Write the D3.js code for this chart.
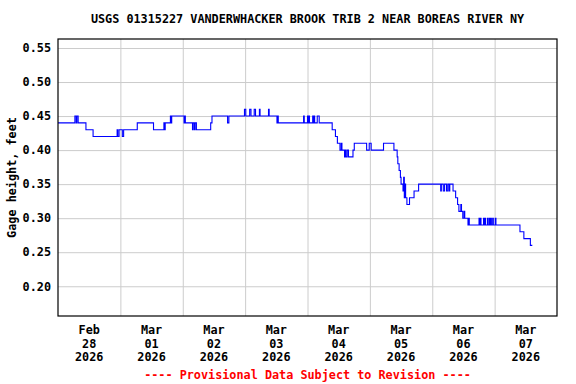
<!DOCTYPE html>
<html>
<head>
<meta charset="utf-8">
<script src="https://cdn.jsdelivr.net/npm/d3@7"></script>
<style>
  body { margin: 0; background: #fff; }
  svg { display: block; }
  text { font-family: "DejaVu Sans Mono", "Liberation Mono", monospace; font-weight: bold; }
</style>
</head>
<body>
<svg id="chart" width="576" height="384"></svg>
<script>
// gage height breakpoints (ft), each value holds until the next time
const times = [
  "2026-02-28 00:00", "2026-02-28 06:30", "2026-02-28 07:00", "2026-02-28 07:15", "2026-02-28 07:45",
  "2026-02-28 10:45", "2026-02-28 13:30", "2026-02-28 22:45", "2026-02-28 23:00", "2026-02-28 23:30",
  "2026-03-01 00:45", "2026-03-01 01:15", "2026-03-01 06:30", "2026-03-01 12:45", "2026-03-01 16:45",
  "2026-03-01 17:00", "2026-03-01 17:15", "2026-03-01 19:15", "2026-03-01 19:30", "2026-03-01 19:45",
  "2026-03-02 00:30", "2026-03-02 00:45", "2026-03-02 01:00", "2026-03-02 03:45", "2026-03-02 04:00",
  "2026-03-02 04:30", "2026-03-02 04:45", "2026-03-02 05:15", "2026-03-02 10:45", "2026-03-02 11:15",
  "2026-03-02 17:15", "2026-03-02 17:45", "2026-03-02 23:45", "2026-03-03 00:15", "2026-03-03 01:45",
  "2026-03-03 02:15", "2026-03-03 03:30", "2026-03-03 04:00", "2026-03-03 05:30", "2026-03-03 05:45",
  "2026-03-03 09:00", "2026-03-03 09:15", "2026-03-03 12:15", "2026-03-03 12:30", "2026-03-03 12:45",
  "2026-03-03 22:30", "2026-03-03 22:45", "2026-03-04 00:00", "2026-03-04 00:15", "2026-03-04 00:30",
  "2026-03-04 00:45", "2026-03-04 02:00", "2026-03-04 02:15", "2026-03-04 02:30", "2026-03-04 02:45",
  "2026-03-04 03:45", "2026-03-04 04:30", "2026-03-04 09:30", "2026-03-04 10:45", "2026-03-04 11:30",
  "2026-03-04 12:30", "2026-03-04 13:00", "2026-03-04 13:15", "2026-03-04 14:15", "2026-03-04 14:30",
  "2026-03-04 14:45", "2026-03-04 15:15", "2026-03-04 15:45", "2026-03-04 17:30", "2026-03-04 18:00",
  "2026-03-04 22:45", "2026-03-04 23:45", "2026-03-05 00:30", "2026-03-05 05:15", "2026-03-05 09:15",
  "2026-03-05 10:30", "2026-03-05 10:45", "2026-03-05 11:15", "2026-03-05 11:45", "2026-03-05 12:00",
  "2026-03-05 12:45", "2026-03-05 13:00", "2026-03-05 13:15", "2026-03-05 13:30", "2026-03-05 13:45",
  "2026-03-05 14:15", "2026-03-05 15:15", "2026-03-05 17:00", "2026-03-05 18:45", "2026-03-06 03:15",
  "2026-03-06 03:30", "2026-03-06 04:15", "2026-03-06 04:45", "2026-03-06 05:30", "2026-03-06 06:00",
  "2026-03-06 06:30", "2026-03-06 06:45", "2026-03-06 08:00", "2026-03-06 09:00", "2026-03-06 09:45",
  "2026-03-06 10:15", "2026-03-06 11:00", "2026-03-06 11:15", "2026-03-06 11:45", "2026-03-06 12:15",
  "2026-03-06 12:30", "2026-03-06 13:45", "2026-03-06 14:00", "2026-03-06 14:15", "2026-03-06 18:00",
  "2026-03-06 18:15", "2026-03-06 18:30", "2026-03-06 18:45", "2026-03-06 19:45", "2026-03-06 20:00",
  "2026-03-06 20:15", "2026-03-06 20:30", "2026-03-06 21:15", "2026-03-06 21:30", "2026-03-06 22:00",
  "2026-03-06 22:15", "2026-03-06 22:30", "2026-03-06 22:45", "2026-03-06 23:15", "2026-03-06 23:30",
  "2026-03-07 00:15", "2026-03-07 00:30", "2026-03-07 09:45", "2026-03-07 11:15", "2026-03-07 13:45",
  "2026-03-07 14:30"
];
const heights = [
  0.44, 0.45, 0.44, 0.45, 0.44,
  0.43, 0.42, 0.43, 0.42, 0.43,
  0.42, 0.43, 0.44, 0.43, 0.44,
  0.43, 0.44, 0.45, 0.44, 0.45,
  0.44, 0.45, 0.44, 0.43, 0.44,
  0.43, 0.44, 0.43, 0.44, 0.45,
  0.44, 0.45, 0.46, 0.45, 0.46,
  0.45, 0.46, 0.45, 0.46, 0.45,
  0.46, 0.45, 0.44, 0.45, 0.44,
  0.45, 0.44, 0.45, 0.44, 0.45,
  0.44, 0.45, 0.44, 0.45, 0.44,
  0.45, 0.44, 0.43, 0.42, 0.41,
  0.40, 0.41, 0.40, 0.39, 0.40,
  0.39, 0.40, 0.39, 0.40, 0.41,
  0.40, 0.41, 0.40, 0.41, 0.40,
  0.39, 0.38, 0.37, 0.36, 0.35,
  0.34, 0.36, 0.33, 0.35, 0.33,
  0.32, 0.33, 0.34, 0.35, 0.34,
  0.35, 0.34, 0.35, 0.34, 0.35,
  0.34, 0.35, 0.34, 0.33, 0.32,
  0.31, 0.32, 0.31, 0.30, 0.31,
  0.30, 0.29, 0.30, 0.29, 0.30,
  0.29, 0.30, 0.29, 0.30, 0.29,
  0.30, 0.29, 0.30, 0.29, 0.30,
  0.29, 0.30, 0.29, 0.30, 0.29,
  0.30, 0.29, 0.28, 0.27, 0.26,
  0.26
];
const yTicks = [0.20, 0.25, 0.30, 0.35, 0.40, 0.45, 0.50, 0.55];
const dayLabels = [["Feb", "28", "2026"], ["Mar", "01", "2026"], ["Mar", "02", "2026"], ["Mar", "03", "2026"],
                   ["Mar", "04", "2026"], ["Mar", "05", "2026"], ["Mar", "06", "2026"], ["Mar", "07", "2026"]];
const title = "USGS 01315227 VANDERWHACKER BROOK TRIB 2 NEAR BOREAS RIVER NY";
const yTitle = "Gage height, feet";
const footer = "---- Provisional Data Subject to Revision ----";

const margin = {top: 39, right: 19, bottom: 68, left: 58};
const fontSize = "11.8px";
const svg = d3.select("#chart");
const W = +svg.attr("width"), H = +svg.attr("height");
const w = W - margin.left - margin.right;
const h = H - margin.top - margin.bottom;

const parse = d3.utcParse("%Y-%m-%d %H:%M");
const data = times.map((t, i) => ({t: parse(t), v: heights[i]}));

const x = d3.scaleUtc()
  .domain([parse("2026-02-28 00:00"), parse("2026-03-08 00:00")])
  .range([0, w]);
const y = d3.scaleLinear().domain([0.1563, 0.5632]).range([h, 0]);

const g = svg.append("g").attr("transform", `translate(${margin.left},${margin.top})`);

// grid lines
const days = d3.utcDay.range(parse("2026-03-01 00:00"), parse("2026-03-08 00:00"));
g.append("g")
  .call(d3.axisBottom(x).tickValues(days).tickSize(h).tickFormat(""))
  .call(a => a.select(".domain").remove())
  .selectAll("line").attr("stroke", "#cccccc");
g.append("g")
  .call(d3.axisLeft(y).tickValues(yTicks).tickSize(-w).tickFormat(d3.format(".2f")))
  .call(a => a.select(".domain").remove())
  .call(a => a.selectAll("line").attr("stroke", "#cccccc"))
  .call(a => a.selectAll("text").attr("x", -7).attr("fill", "#000")
    .style("font-size", fontSize).style("font-family", null));

// x labels at noon, three lines each
const noons = d3.utcDay.range(parse("2026-02-28 00:00"), parse("2026-03-08 00:00")).map(d => d3.utcHour.offset(d, 12));
const labs = g.append("g").selectAll("text")
  .data(noons)
  .join("text")
  .attr("text-anchor", "middle")
  .attr("x", d => x(d))
  .attr("y", h + 18)
  .style("font-size", fontSize);
labs.each(function(d, i) {
  d3.select(this).selectAll("tspan")
    .data(dayLabels[i])
    .join("tspan")
    .attr("x", x(d))
    .attr("dy", (s, j) => j === 0 ? 0 : 13.5)
    .text(s => s);
});

// data line
g.append("path")
  .datum(data)
  .attr("fill", "none")
  .attr("stroke", "#0000ff")
  .attr("stroke-width", 1.1)
  .attr("d", d3.line().x(d => x(d.t)).y(d => y(d.v)).curve(d3.curveStepAfter));

// frame
g.append("rect")
  .attr("x", 0).attr("y", 0).attr("width", w).attr("height", h)
  .attr("fill", "none").attr("stroke", "#000").attr("stroke-width", 1.2);

svg.append("text")
  .attr("x", margin.left + w / 2).attr("y", 23)
  .attr("text-anchor", "middle")
  .style("font-size", fontSize)
  .text(title);

svg.append("text")
  .attr("transform", `translate(16,${margin.top + h / 2}) rotate(-90)`)
  .attr("text-anchor", "middle")
  .style("font-size", fontSize)
  .text(yTitle);

svg.append("text")
  .attr("x", margin.left + w / 2).attr("y", 379)
  .attr("text-anchor", "middle")
  .attr("fill", "#ff0000")
  .style("font-size", fontSize)
  .text(footer);
</script>
</body>
</html>
